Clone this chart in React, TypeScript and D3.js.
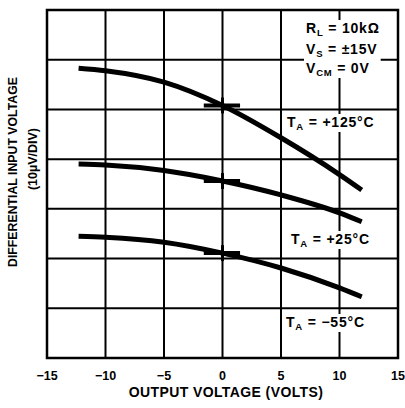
import * as d3 from "d3";
import { useEffect, useRef } from "react";

const width = 405;
const height = 408;
const margin = { top: 10, right: 7, bottom: 50, left: 47 };

// output voltage (V) and differential input voltage (µV, 10µV/div)
const xTicks = [-15, -10, -5, 0, 5, 10, 15];
const yGrid = [0, 10, 20, 30, 40, 50, 60, 70];
const outV = [-12.3, -10, -5, 0, 5, 10, 11.9];
const vin125 = [58.3, 57.8, 55.5, 50.8, 44.3, 36.9, 33.8];
const vin25 = [39.0, 38.8, 37.7, 35.6, 32.8, 29.2, 27.4];
const vinM55 = [24.5, 24.3, 23.3, 21.1, 18.1, 14.1, 12.3];
const markSpan = [-1.6, 1.5];

const conditions = [
  ["R", "L", " = 10kΩ"],
  ["V", "S", " = ±15V"],
  ["V", "CM", " = 0V"],
];
const tempLabels = ["+125°C", "+25°C", "−55°C"];

const font = "'Liberation Sans', Arial, Helvetica, sans-serif";

const App = () => {
  const ref = useRef<SVGSVGElement | null>(null);

  useEffect(() => {
    if (!ref.current) return;
    const svg = d3.select(ref.current);
    svg.selectAll("*").remove();

    const x = d3
      .scaleLinear()
      .domain([-15, 15])
      .range([margin.left, width - margin.right]);
    const y = d3
      .scaleLinear()
      .domain([0, 70])
      .range([height - margin.bottom, margin.top]);

    // grid
    const grid = svg.append("g").attr("stroke", "#000").attr("stroke-width", 2);
    grid
      .selectAll("line.v")
      .data(xTicks.slice(1, -1))
      .join("line")
      .attr("class", "v")
      .attr("x1", (d) => x(d))
      .attr("x2", (d) => x(d))
      .attr("y1", y(0))
      .attr("y2", y(70));
    grid
      .selectAll("line.h")
      .data(yGrid.slice(1, -1))
      .join("line")
      .attr("class", "h")
      .attr("x1", x(-15))
      .attr("x2", x(15))
      .attr("y1", (d) => y(d))
      .attr("y2", (d) => y(d));

    // curves
    const series = [vin125, vin25, vinM55];
    const line = d3
      .line<number>()
      .x((_, i) => x(outV[i]))
      .y((d) => y(d))
      .curve(d3.curveMonotoneX);
    svg
      .append("g")
      .selectAll("path")
      .data(series)
      .join("path")
      .attr("d", (d) => line(d))
      .attr("fill", "none")
      .attr("stroke", "#000")
      .attr("stroke-width", 5);

    // small measurement marks at 0V
    const marks = svg.append("g").attr("stroke", "#000");
    series.forEach((s) => {
      const v0 = s[outV.indexOf(0)];
      marks
        .append("line")
        .attr("x1", x(markSpan[0]))
        .attr("x2", x(markSpan[1]))
        .attr("y1", y(v0))
        .attr("y2", y(v0))
        .attr("stroke-width", 4);
      marks
        .append("line")
        .attr("x1", x(0))
        .attr("x2", x(0))
        .attr("y1", y(v0 - 1.6))
        .attr("y2", y(v0 + 1.6))
        .attr("stroke-width", 3);
    });

    // frame
    svg
      .append("rect")
      .attr("x", x(-15))
      .attr("y", y(70))
      .attr("width", x(15) - x(-15))
      .attr("height", y(0) - y(70))
      .attr("fill", "none")
      .attr("stroke", "#000")
      .attr("stroke-width", 2.5);

    const addLabel = (
      g: d3.Selection<SVGGElement, unknown, null, undefined>,
      px: number,
      py: number,
      main: string,
      sub: string,
      rest: string
    ) => {
      const t = g
        .append("text")
        .attr("x", px)
        .attr("y", py)
        .attr("font-family", font)
        .attr("font-weight", "bold")
        .attr("font-size", 14)
        .attr("letter-spacing", 0.8);
      t.append("tspan").text(main);
      t.append("tspan").attr("dy", 3).attr("font-size", 9.5).text(sub);
      t.append("tspan").attr("dy", -3).text(rest);
    };
    const backfill = (g: d3.Selection<SVGGElement, unknown, null, undefined>) => {
      const bb = (g.node() as SVGGElement).getBBox();
      g.insert("rect", "text")
        .attr("x", bb.x - 2)
        .attr("y", bb.y)
        .attr("width", bb.width + 3)
        .attr("height", bb.height)
        .attr("fill", "#fff");
    };

    const condY = [33, 54, 73];
    const condG = svg.append("g");
    conditions.forEach((c, i) => addLabel(condG, 306, condY[i], c[0], c[1], c[2]));
    backfill(condG);

    const tempPos = [
      [287, 127],
      [291, 244],
      [286, 327],
    ];
    tempLabels.forEach((l, i) => {
      const g = svg.append("g");
      addLabel(g, tempPos[i][0], tempPos[i][1], "T", "A", " = " + l);
      backfill(g);
    });

    // x tick labels
    svg
      .append("g")
      .selectAll("text")
      .data(xTicks)
      .join("text")
      .attr("x", (d) => x(d))
      .attr("y", 380)
      .attr("text-anchor", "middle")
      .attr("font-family", font)
      .attr("font-weight", "bold")
      .attr("font-size", 12.5)
      .text((d) => (d < 0 ? "−" + Math.abs(d) : String(d)));

    svg
      .append("text")
      .attr("x", 226)
      .attr("y", 397)
      .attr("text-anchor", "middle")
      .attr("font-family", font)
      .attr("font-weight", "bold")
      .attr("font-size", 14)
      .attr("letter-spacing", 0.4)
      .text("OUTPUT VOLTAGE (VOLTS)");

    svg
      .append("text")
      .attr("transform", "translate(17,172) rotate(-90)")
      .attr("text-anchor", "middle")
      .attr("font-family", font)
      .attr("font-weight", "bold")
      .attr("font-size", 12.3)
      .text("DIFFERENTIAL INPUT VOLTAGE");
    svg
      .append("text")
      .attr("transform", "translate(37,159) rotate(-90)")
      .attr("text-anchor", "middle")
      .attr("font-family", font)
      .attr("font-weight", "bold")
      .attr("font-size", 12.5)
      .text("(10µV/DIV)");
  }, []);

  return (
    <svg
      ref={ref}
      width={width}
      height={height}
      style={{ position: "absolute", left: 0, top: 0, background: "#fff" }}
    />
  );
};

export default App;
